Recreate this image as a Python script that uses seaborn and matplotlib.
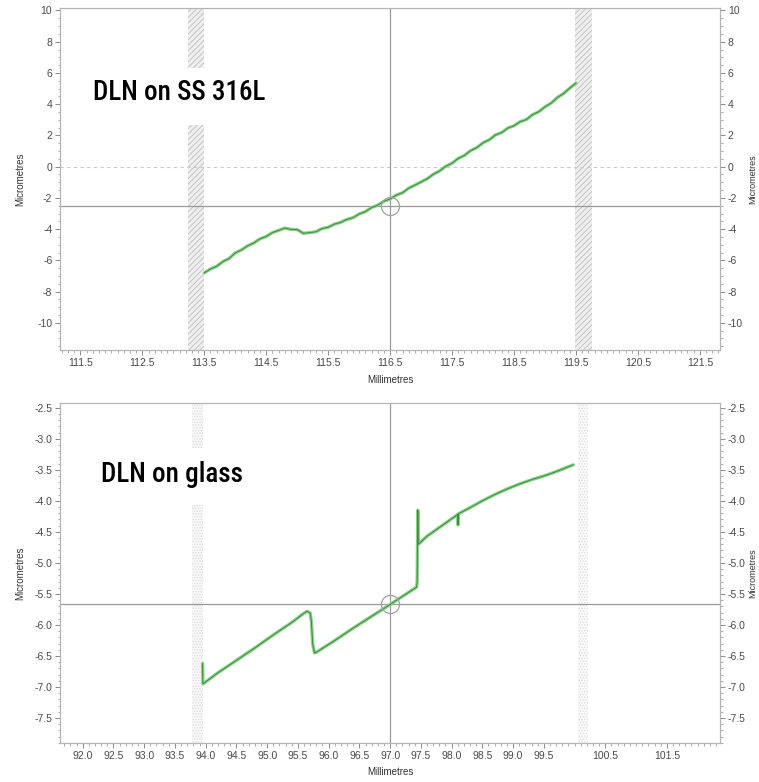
import matplotlib
matplotlib.use("Agg")
import matplotlib.pyplot as plt
import seaborn as sns
import pandas as pd
from matplotlib.ticker import MultipleLocator, FixedLocator
from matplotlib import font_manager
from matplotlib.font_manager import FontProperties

# ---------------- data ----------------
ss_x = [113.5, 113.6, 113.7, 113.8, 113.9, 114.0, 114.1, 114.2, 114.3, 114.4,
        114.5, 114.6, 114.7, 114.8, 114.9, 115.0, 115.1, 115.2, 115.3, 115.4,
        115.5, 115.6, 115.7, 115.8, 115.9, 116.0, 116.1, 116.2, 116.3, 116.4,
        116.5, 116.6, 116.7, 116.8, 116.9, 117.0, 117.1, 117.2, 117.3, 117.4,
        117.5, 117.6, 117.7, 117.8, 117.9, 118.0, 118.1, 118.2, 118.3, 118.4,
        118.5, 118.6, 118.7, 118.8, 118.9, 119.0, 119.1, 119.2, 119.3, 119.4,
        119.5]
ss_y = [-6.80, -6.55, -6.38, -6.08, -5.88, -5.52, -5.33, -5.07, -4.88, -4.62,
        -4.47, -4.22, -4.08, -3.93, -4.02, -4.03, -4.27, -4.22, -4.17, -3.97,
        -3.88, -3.68, -3.57, -3.38, -3.27, -3.03, -2.88, -2.62, -2.47, -2.22,
        -2.07, -1.82, -1.67, -1.38, -1.18, -0.98, -0.77, -0.48, -0.27, 0.03,
        0.22, 0.53, 0.72, 1.03, 1.22, 1.53, 1.72, 2.03, 2.18, 2.47,
        2.62, 2.88, 3.02, 3.33, 3.52, 3.83, 4.07, 4.43, 4.68, 5.03,
        5.35]

glass_x = [93.95, 93.955, 94.2, 94.5, 94.8, 95.1, 95.4, 95.6, 95.65, 95.70,
           95.72, 95.74, 95.77, 95.80, 96.1, 96.4, 96.7, 97.0, 97.2, 97.43,
           97.44, 97.45, 97.46, 97.6, 97.8, 98.0, 98.1, 98.105, 98.11, 98.3,
           98.5, 98.7, 98.9, 99.1, 99.3, 99.5, 99.7, 99.85, 99.98]
glass_y = [-6.62, -6.95, -6.77, -6.57, -6.37, -6.16, -5.96, -5.81, -5.78, -5.81,
           -5.95, -6.30, -6.45, -6.44, -6.25, -6.05, -5.86, -5.67, -5.54, -5.39,
           -5.30, -4.15, -4.70, -4.57, -4.43, -4.29, -4.22, -4.39, -4.21, -4.11,
           -4.00, -3.90, -3.81, -3.73, -3.66, -3.60, -3.53, -3.47, -3.42]

ss_xticks = [111.5, 112.5, 113.5, 114.5, 115.5, 116.5, 117.5, 118.5, 119.5, 120.5, 121.5]
ss_yticks = [-10, -8, -6, -4, -2, 0, 2, 4, 6, 8, 10]
glass_xticks = [92.0, 92.5, 93.0, 93.5, 94.0, 94.5, 95.0, 95.5, 96.0, 96.5, 97.0,
                97.5, 98.0, 98.5, 99.0, 99.5, 100.5, 101.5]
glass_yticks = [-7.5, -7.0, -6.5, -6.0, -5.5, -5.0, -4.5, -4.0, -3.5, -3.0, -2.5]

ss_cursor = (116.5, -2.55)
glass_cursor = (97.0, -5.67)
ss_bands = [(113.24, 113.50), (119.49, 119.76)]
glass_bands = [(93.78, 93.95), (100.05, 100.22)]

ss_label = "DLN on SS 316L"
glass_label = "DLN on glass"

# ---------------- style ----------------
sns.set_theme(style="white")
plt.rcParams["font.family"] = ["Liberation Sans", "DejaVu Sans"]
plt.rcParams["hatch.linewidth"] = 0.6


def pick_condensed_font():
    entries = font_manager.fontManager.ttflist
    prefs = ["Roboto Condensed", "Open Sans Condensed", "Liberation Sans Narrow",
             "Noto Sans Condensed", "DejaVu Sans Condensed"]
    def is_cond(f):
        n = f.name
        fn = f.fname.lower()
        return ("condensed" in n.lower() or "narrow" in n.lower()
                or "condensed" in fn or "narrow" in fn
                or str(f.stretch) in ("condensed", "semi-condensed", "extra-condensed",
                                      "ultra-condensed"))
    cands = [f for f in entries if is_cond(f) and "oblique" not in f.fname.lower()
             and "italic" not in f.fname.lower()]
    if not cands:
        return None
    def score(f):
        s = 0
        for i, p in enumerate(prefs):
            if p.lower().split()[0] in f.name.lower() or p.lower().replace(" ", "") in f.fname.lower():
                s -= (10 - i)
        w = f.weight if isinstance(f.weight, int) else 400
        s += abs(w - 500) / 100.0
        return s
    cands.sort(key=score)
    return FontProperties(fname=cands[0].fname)


fp = pick_condensed_font()
if fp is None:
    fp = FontProperties(family="DejaVu Sans")

fig = plt.figure(figsize=(7.59, 7.82), dpi=100)
ax1 = fig.add_axes([0.079, 0.552, 0.870, 0.438])
ax2 = fig.add_axes([0.079, 0.050, 0.870, 0.435])

line_light = "#8ad28a"
line_dark = "#3f8a3f"
cross = "#9a9a9a"
tick_col = "#4a4a4a"


def style_axes(ax):
    for s in ax.spines.values():
        s.set_color("#b5b5b5")
        s.set_linewidth(0.9)
    ax.tick_params(axis="both", which="both", direction="out", colors="#8a8a8a",
                   labelcolor=tick_col, labelsize=7.5, right=True, labelright=True,
                   left=True, bottom=True)
    ax.tick_params(which="major", length=3.5, width=0.7, pad=2)
    ax.tick_params(which="minor", length=1.8, width=0.5)


# ---------------- top panel ----------------
ss_df = pd.DataFrame({"mm": ss_x, "um": ss_y})
ax1.set_xlim(111.17, 121.83)
ax1.set_ylim(-11.76, 10.17)
for lo, hi in [(0.0, 0.658), (0.825, 1.0)]:
    ax1.axvspan(*ss_bands[0], ymin=lo, ymax=hi, facecolor="#efefef", edgecolor="#bdbdbd",
                hatch="//////", lw=0, zorder=1)
ax1.axvspan(*ss_bands[1], facecolor="#efefef", edgecolor="#bdbdbd",
            hatch="//////", lw=0, zorder=1)
ax1.axhline(0, color="#c8c8c8", lw=0.8, ls=(0, (3, 3)), zorder=1)
ax1.axhline(ss_cursor[1], color=cross, lw=0.9, zorder=2)
ax1.axvline(ss_cursor[0], color=cross, lw=0.9, zorder=2)
sns.lineplot(data=ss_df, x="mm", y="um", ax=ax1, sort=False, estimator=None,
             color=line_light, lw=2.4, zorder=3)
sns.lineplot(data=ss_df, x="mm", y="um", ax=ax1, sort=False, estimator=None,
             color=line_dark, lw=0.7, zorder=4)
ax1.plot([ss_cursor[0]], [ss_cursor[1]], marker="o", ms=13, mfc="none",
         mec="#a0a0a0", mew=0.9, zorder=5)
ax1.xaxis.set_major_locator(FixedLocator(ss_xticks))
ax1.xaxis.set_minor_locator(MultipleLocator(0.1))
ax1.yaxis.set_major_locator(FixedLocator(ss_yticks))
ax1.yaxis.set_minor_locator(MultipleLocator(0.5))
ax1.set_yticklabels([str(v) for v in ss_yticks])
ax1.set_xticklabels([f"{v:.1f}" for v in ss_xticks])
style_axes(ax1)
ax1.set_xlabel("Millimetres", fontsize=7, color="#333333")
ax1.set_ylabel("Micrometres", fontsize=7, color="#333333")
ax1.xaxis.set_label_coords(0.5, -0.072)
ax1.yaxis.set_label_coords(-0.052, 0.5)
t1 = ax1.text(111.70, 4.28, ss_label, fontproperties=fp, fontsize=25, color="black",
              ha="left", va="baseline", zorder=6)

# ---------------- bottom panel ----------------
gl_df = pd.DataFrame({"mm": glass_x, "um": glass_y})
ax2.set_xlim(91.63, 102.37)
ax2.set_ylim(-7.9, -2.42)
for lo, hi in [(0.0, 0.70), (0.868, 1.0)]:
    ax2.axvspan(*glass_bands[0], ymin=lo, ymax=hi, facecolor="#f7f7f7", edgecolor="#dcdcdc",
                hatch="......", lw=0, zorder=1)
ax2.axvspan(*glass_bands[1], facecolor="#f9f9f9", edgecolor="#e0e0e0",
            hatch="......", lw=0, zorder=1)
ax2.axhline(glass_cursor[1], color=cross, lw=0.9, zorder=2)
ax2.axvline(glass_cursor[0], color=cross, lw=0.9, zorder=2)
sns.lineplot(data=gl_df, x="mm", y="um", ax=ax2, sort=False, estimator=None,
             color=line_light, lw=2.4, zorder=3)
sns.lineplot(data=gl_df, x="mm", y="um", ax=ax2, sort=False, estimator=None,
             color=line_dark, lw=0.7, zorder=4)
ax2.plot([glass_cursor[0]], [glass_cursor[1]], marker="o", ms=13, mfc="none",
         mec="#a0a0a0", mew=0.9, zorder=5)
ax2.xaxis.set_major_locator(FixedLocator(glass_xticks))
ax2.xaxis.set_minor_locator(MultipleLocator(0.1))
ax2.yaxis.set_major_locator(FixedLocator(glass_yticks))
ax2.yaxis.set_minor_locator(MultipleLocator(0.1))
ax2.set_xticklabels([f"{v:.1f}" for v in glass_xticks])
ax2.set_yticklabels([f"{v:.1f}" for v in glass_yticks])
style_axes(ax2)
ax2.set_xlabel("Millimetres", fontsize=7, color="#333333")
ax2.set_ylabel("Micrometres", fontsize=7, color="#333333")
ax2.xaxis.set_label_coords(0.5, -0.070)
ax2.yaxis.set_label_coords(-0.052, 0.5)
t2 = ax2.text(92.30, -3.69, glass_label, fontproperties=fp, fontsize=25, color="black",
              ha="left", va="baseline", zorder=6)

# fit the caption size so its width is close to the source (~150 px)
renderer = fig.canvas.get_renderer()
w = t1.get_window_extent(renderer=renderer).width
target = 150 * 1.15
if w > target:
    size = 25 * target / w
    t1.set_fontsize(size)
    t2.set_fontsize(size)

# right-hand axis titles at the figure edge
fig.text(0.986, 0.771, "Micrometres", rotation=90, fontsize=6.5, color="#333333",
         ha="left", va="center")
fig.text(0.986, 0.267, "Micrometres", rotation=90, fontsize=6.5, color="#333333",
         ha="left", va="center")

fig.savefig("out.png", dpi=100)
